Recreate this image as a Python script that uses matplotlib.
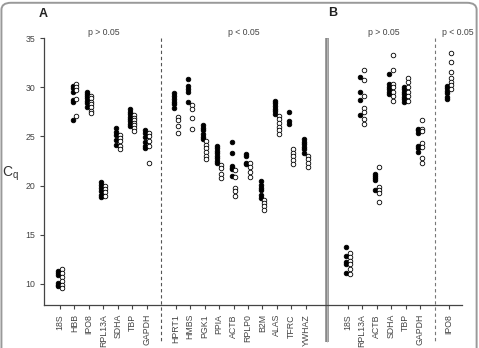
import matplotlib.pyplot as plt
from matplotlib.patches import FancyBboxPatch

plt.rcParams['font.family'] = ['Liberation Sans', 'DejaVu Sans']

# panel A, first group (p > 0.05)
genes_a1 = ['18S', 'HBB', 'IPO8', 'RPL13A', 'SDHA', 'TBP', 'GAPDH']
a1_filled = [
    [11.3, 11.1, 10.9, 10.1, 9.9, 9.8],
    [30.1, 29.9, 29.5, 28.7, 28.5, 26.7],
    [29.55, 29.3, 29.1, 28.9, 28.6, 28.4, 27.95],
    [20.4, 20.05, 19.7, 19.4, 19.05, 18.8],
    [25.9, 25.4, 25.1, 24.6, 24.1],
    [27.75, 27.5, 27.3, 27.0, 26.8, 26.55, 26.3, 26.05],
    [25.65, 25.3, 24.97, 24.4, 24.0, 23.8],
]
a1_open = [
    [11.5, 11.1, 10.7, 10.25, 9.9, 9.55],
    [30.35, 30.0, 29.7, 28.85, 27.1],
    [29.1, 28.9, 28.5, 28.25, 27.95, 27.6, 27.35],
    [19.95, 19.6, 19.3, 18.95],
    [25.1, 24.85, 24.5, 24.0, 23.7],
    [27.2, 26.9, 26.7, 26.4, 26.2, 25.9, 25.55],
    [25.35, 25.0, 24.5, 24.0, 22.3],
]

# panel A, second group (p < 0.05)
genes_a2 = ['HPRT1', 'HMBS', 'PGK1', 'PPIA', 'ACTB', 'RPLP0', 'B2M', 'ALAS', 'TFRC', 'YWHAZ']
a2_filled = [
    [29.45, 29.1, 28.8, 28.5, 28.3, 27.85],
    [30.8, 30.1, 29.8, 29.55, 28.5],
    [26.15, 25.9, 25.65, 25.25, 24.97, 24.7],
    [24.0, 23.8, 23.55, 23.3, 23.0, 22.8, 22.5, 22.27],
    [24.4, 23.3, 22.0, 21.8, 21.65, 20.95],
    [23.2, 23.05, 22.3, 22.2],
    [20.45, 20.1, 19.8, 19.5, 19.05, 18.7],
    [28.6, 28.35, 28.1, 27.8, 27.55, 27.3],
    [27.45, 26.6, 26.3],
    [24.7, 24.45, 24.2, 23.95, 23.7, 23.35],
]
a2_open = [
    [26.95, 26.7, 26.05, 25.3],
    [28.2, 27.75, 26.85, 25.8],
    [24.5, 24.1, 23.8, 23.45, 23.0, 22.7],
    [22.1, 21.75, 21.2, 20.75],
    [21.6, 20.9, 19.7, 19.4, 18.95],
    [22.25, 21.85, 21.35, 20.9],
    [18.5, 18.2, 17.9, 17.5],
    [27.05, 26.75, 26.4, 26.0, 25.7, 25.25],
    [23.7, 23.35, 23.0, 22.6, 22.2],
    [23.0, 22.7, 22.25, 21.85],
]

# panel B
genes_b1 = ['18S', 'RPL13A', 'ACTB', 'SDHA', 'TBP', 'GAPDH']
b1_filled = [
    [13.7, 12.8, 12.2, 12.0, 11.15],
    [31.05, 29.55, 28.75, 27.2],
    [21.2, 21.0, 20.75, 20.55, 19.5],
    [31.35, 30.3, 30.05, 29.8, 29.55, 29.3],
    [30.05, 29.8, 29.55, 29.3, 29.05, 28.8, 28.5],
    [25.8, 25.6, 25.3, 24.0, 23.8, 23.45],
]
b1_open = [
    [13.1, 12.7, 12.35, 12.0, 11.5, 11.05],
    [31.75, 30.75, 29.1, 27.85, 27.5, 26.75, 26.25],
    [21.9, 19.9, 19.55, 19.2, 18.35],
    [33.3, 31.8, 30.3, 30.0, 29.55, 29.1, 28.6],
    [30.9, 30.55, 30.05, 29.55, 29.1, 28.6],
    [26.7, 25.8, 25.5, 24.3, 23.9, 22.8, 22.3],
]
genes_b2 = ['IPO8']
b2_filled = [[30.1, 29.9, 29.65, 29.4, 29.05, 28.8]]
b2_open = [[33.45, 32.6, 31.5, 30.9, 30.55, 30.2, 29.8]]

# x positions
pos_a1 = list(range(len(genes_a1)))
pos_a2 = [8 + i for i in range(len(genes_a2))]
pos_b1 = [19.9 + i for i in range(len(genes_b1))]
pos_b2 = [26.9]

fig = plt.figure(figsize=(4.79, 3.48), dpi=100)
ax = fig.add_axes([0.0919, 0.1236, 0.8727, 0.767])

off = 0.13
for pos, filled, opn in [(pos_a1, a1_filled, a1_open), (pos_a2, a2_filled, a2_open),
                         (pos_b1, b1_filled, b1_open), (pos_b2, b2_filled, b2_open)]:
    for x, f, o in zip(pos, filled, opn):
        ax.plot([x - off] * len(f), f, 'o', ms=3.3, mfc='black', mec='black', mew=0.6)
        ax.plot([x + off] * len(o), o, 'o', ms=3.3, mfc='white', mec='black', mew=0.6)

ax.set_xlim(-1.1, 27.8)
ax.set_ylim(7.85, 35)
ax.set_yticks([10, 15, 20, 25, 30, 35])
ax.set_xticks(pos_a1 + pos_a2 + pos_b1 + pos_b2)
ax.set_xticklabels(genes_a1 + genes_a2 + genes_b1 + genes_b2, rotation=90)
ax.tick_params(axis='both', labelsize=6.3, colors='#444444', length=3, width=0.8)
for s in ['top', 'right']:
    ax.spines[s].set_visible(False)
for s in ['left', 'bottom']:
    ax.spines[s].set_color('#444444')
    ax.spines[s].set_linewidth(0.9)

# separators, running from the top down through the tick labels
trans = ax.get_xaxis_transform()
ax.plot([7.01, 7.01], [1.0, -0.14], transform=trans, color='#555555', ls=(0, (3, 2.5)),
        lw=0.8, clip_on=False)
ax.plot([25.9, 25.9], [1.0, -0.14], transform=trans, color='#777777', ls=(0, (3, 2.5)),
        lw=0.8, clip_on=False)
ax.plot([18.47, 18.47], [1.0, -0.14], transform=trans, color='#888888', lw=2.6,
        clip_on=False, solid_capstyle='butt')
ax.plot([18.47, 18.47], [1.0, -0.14], transform=trans, color='#bbbbbb', lw=0.6,
        clip_on=False, solid_capstyle='butt')

ax.text(3.0, 1.005, 'p > 0.05', transform=trans, ha='center', va='bottom', fontsize=6.3, color='#444444')
ax.text(12.74, 1.005, 'p < 0.05', transform=trans, ha='center', va='bottom', fontsize=6.3, color='#444444')
ax.text(22.4, 1.005, 'p > 0.05', transform=trans, ha='center', va='bottom', fontsize=6.3, color='#444444')
ax.text(27.5, 1.005, 'p < 0.05', transform=trans, ha='center', va='bottom', fontsize=6.3, color='#444444')

fig.text(43 / 479, 1 - 14 / 348, 'A', fontsize=9, fontweight='bold', ha='center', va='center', color='#222222')
fig.text(333 / 479, 1 - 13 / 348, 'B', fontsize=9, fontweight='bold', ha='center', va='center', color='#222222')
fig.text(10 / 479, 1 - 174 / 348, 'C$_\\mathregular{q}$', fontsize=10, ha='center', va='center', color='#333333')

frame = FancyBboxPatch((0.003, -0.03), 0.992, 1.022, transform=fig.transFigure,
                       boxstyle='round,pad=0,rounding_size=0.02', fill=False,
                       edgecolor='#999999', lw=1.4)
fig.patches.append(frame)

fig.savefig('out.png', dpi=100)
